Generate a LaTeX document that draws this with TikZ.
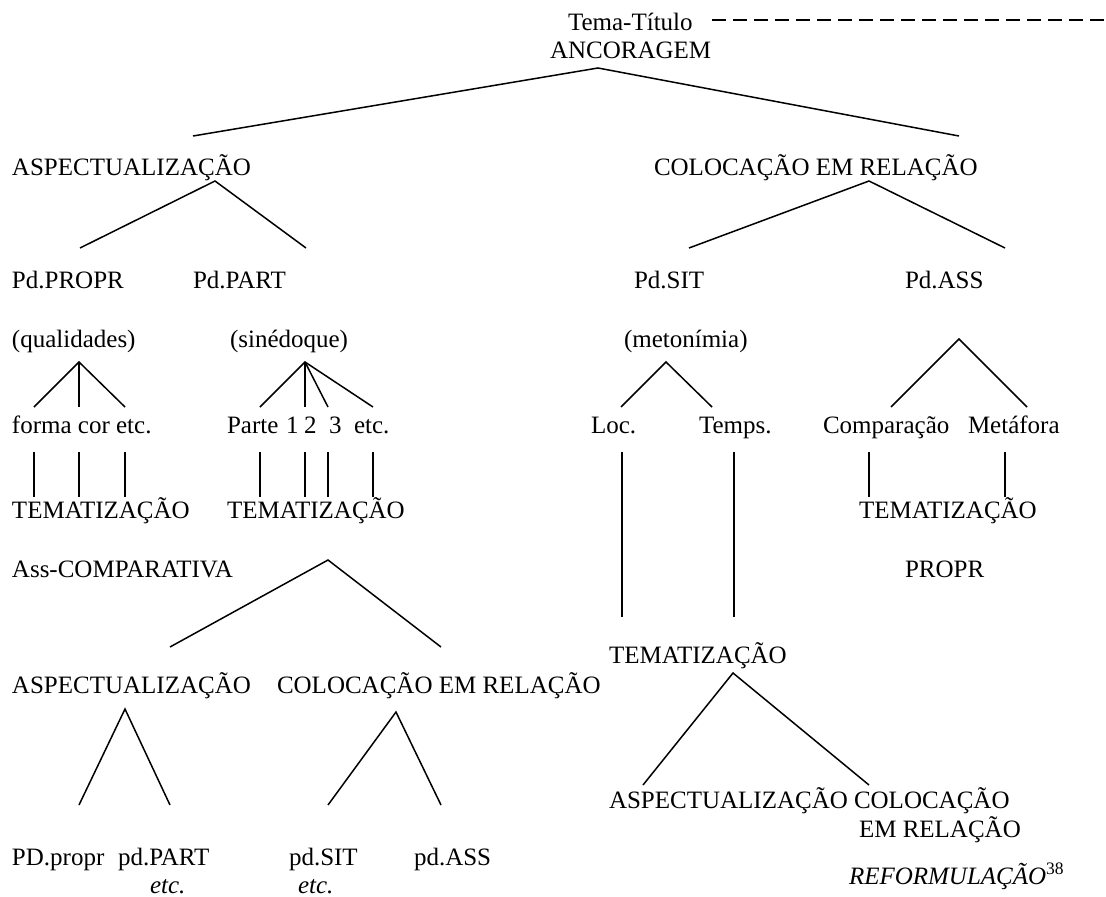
\documentclass[tikz,border=0pt]{standalone}
\usepackage{fontspec}
\setmainfont{Liberation Serif}
\begin{document}
\begin{tikzpicture}[x=1pt,y=-1pt,
  txt/.style={inner sep=0pt, outer sep=0pt, anchor=base west, font=\fontsize{25}{30}\selectfont},
  ln/.style={line width=1.5pt},
  dsh/.style={line width=1.5pt, dash pattern=on 14pt off 7pt}]
\useasboundingbox (0,0) rectangle (1106,897);
% texts
\node[txt] (tema) at (568,30) {Tema-Título};
\node[txt] (anc) at (550,58) {ANCORAGEM};
\node[txt] (asp) at (12,175) {ASPECTUALIZAÇÃO};
\node[txt] (col) at (654,175) {COLOCAÇÃO EM RELAÇÃO};
\node[txt] (pdpropr) at (12,288) {Pd.PROPR};
\node[txt] (pdpart) at (193,288) {Pd.PART};
\node[txt] (pdsit) at (634,288) {Pd.SIT};
\node[txt] (pdass) at (905,288) {Pd.ASS};
\node[txt] (qual) at (12,347) {(qualidades)};
\node[txt] (sine) at (230,347) {(sinédoque)};
\node[txt] (meto) at (624,347) {(metonímia)};
\node[txt] (forma) at (12,433) {forma cor etc.};
\node[txt] (parte) at (227,433) {Parte};
\node[txt] (p1) at (286,433) {1};
\node[txt] (p2) at (304,433) {2};
\node[txt] (p3) at (329,433) {3};
\node[txt] (petc) at (354,433) {etc.};
\node[txt] (loc) at (591,433) {Loc.};
\node[txt] (temps) at (699,433) {Temps.};
\node[txt] (comp) at (823,433) {Comparação};
\node[txt] (meta) at (968,433) {Metáfora};
\node[txt] (temA) at (12,518) {TEMATIZAÇÃO};
\node[txt] (temB) at (227,518) {TEMATIZAÇÃO};
\node[txt] (temC) at (859,518) {TEMATIZAÇÃO};
\node[txt] (asscomp) at (12,577) {Ass-COMPARATIVA};
\node[txt] (propr) at (905,577) {PROPR};
\node[txt] (temD) at (609,663) {TEMATIZAÇÃO};
\node[txt] (asp2) at (12,693) {ASPECTUALIZAÇÃO};
\node[txt] (col2) at (277,693) {COLOCAÇÃO EM RELAÇÃO};
\node[txt] (asp3) at (609,808) {ASPECTUALIZAÇÃO};
\node[txt] (col3) at (854,808) {COLOCAÇÃO};
\node[txt] (col3b) at (859,837) {EM RELAÇÃO};
\node[txt] (pdp) at (12,865) {PD.propr};
\node[txt] (pdpa) at (118,865) {pd.PART};
\node[txt] (etc1) at (150,893) {\itshape etc.};
\node[txt] (pds) at (289,865) {pd.SIT};
\node[txt] (etc2) at (298,893) {\itshape etc.};
\node[txt] (pda) at (414,865) {pd.ASS};
\node[txt] (refo) at (849,884) {\itshape REFORMULAÇÃO\textsuperscript{\upshape 38}};
% coordinates
\coordinate (d0) at (712,20); \coordinate (d1) at (1106,20);
\coordinate (a0) at (598,68); \coordinate (a1) at (193,136); \coordinate (a2) at (959,136);
\coordinate (b0) at (215,181); \coordinate (b1) at (80,248); \coordinate (b2) at (306,248);
\coordinate (c0) at (869,181); \coordinate (c1) at (689,248); \coordinate (c2) at (1005,248);
\coordinate (q0) at (79,362); \coordinate (q1) at (34,407); \coordinate (q2) at (79,407); \coordinate (q3) at (125,407);
\coordinate (s0) at (305,362); \coordinate (s1) at (260,407); \coordinate (s2) at (305,407); \coordinate (s3) at (328,407); \coordinate (s4) at (373,407);
\coordinate (m0) at (666,362); \coordinate (m1) at (621,407); \coordinate (m2) at (712,407);
\coordinate (e0) at (959,339); \coordinate (e1) at (891,407); \coordinate (e2) at (1027,407);
\coordinate (f0) at (328,560); \coordinate (f1) at (170,647); \coordinate (f2) at (441,647);
\coordinate (g0) at (125,709); \coordinate (g1) at (79,805); \coordinate (g2) at (170,805);
\coordinate (h0) at (396,712); \coordinate (h1) at (328,805); \coordinate (h2) at (441,805);
\coordinate (t0) at (733,673); \coordinate (t1) at (643,785); \coordinate (t2) at (869,785);
\foreach \n/\x in {v1/34,v2/79,v3/125,v4/260,v5/305,v6/328,v7/373,v8/869,v9/1005}{
  \coordinate (\n a) at (\x,452); \coordinate (\n b) at (\x,497);}
\coordinate (l1a) at (622,452); \coordinate (l1b) at (622,617);
\coordinate (l2a) at (734,452); \coordinate (l2b) at (734,617);
% connectors
\draw[dsh] (d0) -- (d1);
\draw[ln] (a1) -- (a0) -- (a2);
\draw[ln] (b1) -- (b0) -- (b2);
\draw[ln] (c1) -- (c0) -- (c2);
\draw[ln] (q1) -- (q0) -- (q3); \draw[ln] (q0) -- (q2);
\draw[ln] (s1) -- (s0) -- (s4); \draw[ln] (s0) -- (s2); \draw[ln] (s0) -- (s3);
\draw[ln] (m1) -- (m0) -- (m2);
\draw[ln] (e1) -- (e0) -- (e2);
\draw[ln] (f1) -- (f0) -- (f2);
\draw[ln] (g1) -- (g0) -- (g2);
\draw[ln] (h1) -- (h0) -- (h2);
\draw[ln] (t1) -- (t0) -- (t2);
\foreach \n in {v1,v2,v3,v4,v5,v6,v7,v8,v9}{\draw[ln] (\n a) -- (\n b);}
\draw[ln] (l1a) -- (l1b);
\draw[ln] (l2a) -- (l2b);
\end{tikzpicture}
\end{document}
